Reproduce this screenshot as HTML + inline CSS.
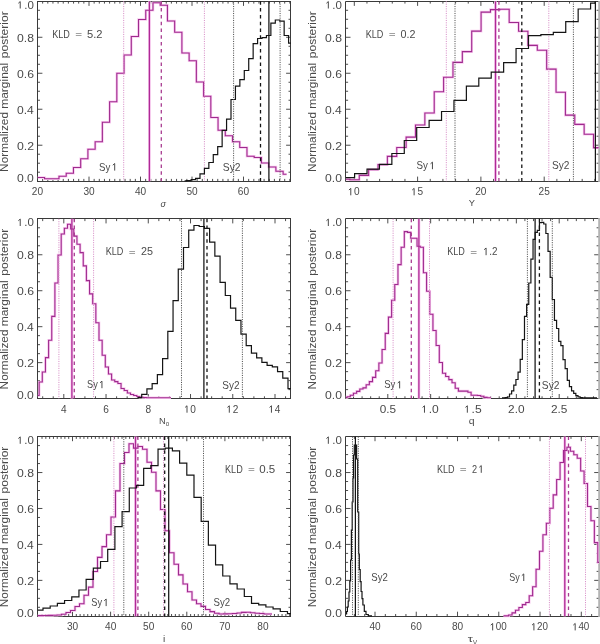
<!DOCTYPE html>
<html><head><meta charset="utf-8"><style>
html,body{margin:0;padding:0;background:#fff;width:600px;height:644px;overflow:hidden}
svg{display:block}
text{font-family:"Liberation Sans",sans-serif;fill:#4a4a4a}
.tl{font-size:10.1px}
</style></head><body>
<svg width="600" height="644" viewBox="0 0 600 644" style="will-change:transform">
<path d="M42.65 181.2v-2.3M42.65 1.3v2.3M47.8 181.2v-2.3M47.8 1.3v2.3M52.95 181.2v-2.3M52.95 1.3v2.3M58.1 181.2v-2.3M58.1 1.3v2.3M63.25 181.2v-2.3M63.25 1.3v2.3M68.4 181.2v-2.3M68.4 1.3v2.3M73.55 181.2v-2.3M73.55 1.3v2.3M78.7 181.2v-2.3M78.7 1.3v2.3M83.85 181.2v-2.3M83.85 1.3v2.3M89 181.2v-4.6M89 1.3v4.6M94.15 181.2v-2.3M94.15 1.3v2.3M99.3 181.2v-2.3M99.3 1.3v2.3M104.45 181.2v-2.3M104.45 1.3v2.3M109.6 181.2v-2.3M109.6 1.3v2.3M114.75 181.2v-2.3M114.75 1.3v2.3M119.9 181.2v-2.3M119.9 1.3v2.3M125.05 181.2v-2.3M125.05 1.3v2.3M130.2 181.2v-2.3M130.2 1.3v2.3M135.35 181.2v-2.3M135.35 1.3v2.3M140.5 181.2v-4.6M140.5 1.3v4.6M145.65 181.2v-2.3M145.65 1.3v2.3M150.8 181.2v-2.3M150.8 1.3v2.3M155.95 181.2v-2.3M155.95 1.3v2.3M161.1 181.2v-2.3M161.1 1.3v2.3M166.25 181.2v-2.3M166.25 1.3v2.3M171.4 181.2v-2.3M171.4 1.3v2.3M176.55 181.2v-2.3M176.55 1.3v2.3M181.7 181.2v-2.3M181.7 1.3v2.3M186.85 181.2v-2.3M186.85 1.3v2.3M192 181.2v-4.6M192 1.3v4.6M197.15 181.2v-2.3M197.15 1.3v2.3M202.3 181.2v-2.3M202.3 1.3v2.3M207.45 181.2v-2.3M207.45 1.3v2.3M212.6 181.2v-2.3M212.6 1.3v2.3M217.75 181.2v-2.3M217.75 1.3v2.3M222.9 181.2v-2.3M222.9 1.3v2.3M228.05 181.2v-2.3M228.05 1.3v2.3M233.2 181.2v-2.3M233.2 1.3v2.3M238.35 181.2v-2.3M238.35 1.3v2.3M243.5 181.2v-4.6M243.5 1.3v4.6M248.65 181.2v-2.3M248.65 1.3v2.3M253.8 181.2v-2.3M253.8 1.3v2.3M258.95 181.2v-2.3M258.95 1.3v2.3M264.1 181.2v-2.3M264.1 1.3v2.3M269.25 181.2v-2.3M269.25 1.3v2.3M274.4 181.2v-2.3M274.4 1.3v2.3M279.55 181.2v-2.3M279.55 1.3v2.3M284.7 181.2v-2.3M284.7 1.3v2.3M289.85 181.2v-2.3M289.85 1.3v2.3M37.6 172.2h2.4M290.9 172.2h-2.4M37.6 163.21h2.4M290.9 163.21h-2.4M37.6 154.21h2.4M290.9 154.21h-2.4M37.6 145.22h4.8M290.9 145.22h-4.8M37.6 136.22h2.4M290.9 136.22h-2.4M37.6 127.23h2.4M290.9 127.23h-2.4M37.6 118.23h2.4M290.9 118.23h-2.4M37.6 109.24h4.8M290.9 109.24h-4.8M37.6 100.24h2.4M290.9 100.24h-2.4M37.6 91.25h2.4M290.9 91.25h-2.4M37.6 82.25h2.4M290.9 82.25h-2.4M37.6 73.26h4.8M290.9 73.26h-4.8M37.6 64.27h2.4M290.9 64.27h-2.4M37.6 55.27h2.4M290.9 55.27h-2.4M37.6 46.28h2.4M290.9 46.28h-2.4M37.6 37.28h4.8M290.9 37.28h-4.8M37.6 28.28h2.4M290.9 28.28h-2.4M37.6 19.29h2.4M290.9 19.29h-2.4M37.6 10.29h2.4M290.9 10.29h-2.4" stroke="#3a3a3a" stroke-width="0.9" fill="none"/>
<rect x="37.5" y="1.5" width="253" height="180" fill="none" stroke="#3a3a3a" stroke-width="1"/>
<text x="31.83" y="195.3" font-size="10.1" >2</text><text x="37.44" y="195.3" font-size="10.1" >0</text>
<text x="83.39" y="195.3" font-size="10.1" >3</text><text x="89" y="195.3" font-size="10.1" >0</text>
<text x="134.96" y="195.3" font-size="10.1" >4</text><text x="140.58" y="195.3" font-size="10.1" >0</text>
<text x="186.38" y="195.3" font-size="10.1" >5</text><text x="192" y="195.3" font-size="10.1" >0</text>
<text x="237.82" y="195.3" font-size="10.1" >6</text><text x="243.44" y="195.3" font-size="10.1" >0</text>
<text x="0" y="181.6" font-size="10.1" transform="matrix(1.2074 0 0 1 16.92 0)" >0</text><text x="0" y="181.6" font-size="10.1" transform="matrix(1.2074 0 0 1 23.71 0)" >.</text><text x="0" y="181.6" font-size="10.1" transform="matrix(1.2074 0 0 1 27.09 0)" >0</text>
<text x="0" y="149.72" font-size="10.1" transform="matrix(1.2179 0 0 1 16.92 0)" >0</text><text x="0" y="149.72" font-size="10.1" transform="matrix(1.2179 0 0 1 23.76 0)" >.</text><text x="0" y="149.72" font-size="10.1" transform="matrix(1.2179 0 0 1 27.18 0)" >2</text>
<text x="0" y="113.74" font-size="10.1" transform="matrix(1.1985 0 0 1 16.93 0)" >0</text><text x="0" y="113.74" font-size="10.1" transform="matrix(1.1985 0 0 1 23.66 0)" >.</text><text x="0" y="113.74" font-size="10.1" transform="matrix(1.1985 0 0 1 27.02 0)" >4</text>
<text x="0" y="77.76" font-size="10.1" transform="matrix(1.2119 0 0 1 16.92 0)" >0</text><text x="0" y="77.76" font-size="10.1" transform="matrix(1.2119 0 0 1 23.73 0)" >.</text><text x="0" y="77.76" font-size="10.1" transform="matrix(1.2119 0 0 1 27.13 0)" >6</text>
<text x="0" y="41.78" font-size="10.1" transform="matrix(1.2115 0 0 1 16.92 0)" >0</text><text x="0" y="41.78" font-size="10.1" transform="matrix(1.2115 0 0 1 23.73 0)" >.</text><text x="0" y="41.78" font-size="10.1" transform="matrix(1.2115 0 0 1 27.13 0)" >8</text>
<path d="M20.23 8.5V1.55L18.35 3.22" stroke="#4a4a4a" stroke-width="1" fill="none"/><text x="0" y="8.5" font-size="10.1" transform="matrix(1.1416 0 0 1 24.23 0)" >.</text><text x="0" y="8.5" font-size="10.1" transform="matrix(1.1416 0 0 1 27.44 0)" >0</text>
<path d="M354.3 181.2v-4.6M354.3 1.3v4.6M366.96 181.2v-2.3M366.96 1.3v2.3M379.62 181.2v-2.3M379.62 1.3v2.3M392.28 181.2v-2.3M392.28 1.3v2.3M404.94 181.2v-2.3M404.94 1.3v2.3M417.6 181.2v-4.6M417.6 1.3v4.6M430.26 181.2v-2.3M430.26 1.3v2.3M442.92 181.2v-2.3M442.92 1.3v2.3M455.58 181.2v-2.3M455.58 1.3v2.3M468.24 181.2v-2.3M468.24 1.3v2.3M480.9 181.2v-4.6M480.9 1.3v4.6M493.56 181.2v-2.3M493.56 1.3v2.3M506.22 181.2v-2.3M506.22 1.3v2.3M518.88 181.2v-2.3M518.88 1.3v2.3M531.54 181.2v-2.3M531.54 1.3v2.3M544.2 181.2v-4.6M544.2 1.3v4.6M556.86 181.2v-2.3M556.86 1.3v2.3M569.52 181.2v-2.3M569.52 1.3v2.3M582.18 181.2v-2.3M582.18 1.3v2.3M594.84 181.2v-2.3M594.84 1.3v2.3M345.7 172.2h2.4M599 172.2h-2.4M345.7 163.21h2.4M599 163.21h-2.4M345.7 154.21h2.4M599 154.21h-2.4M345.7 145.22h4.8M599 145.22h-4.8M345.7 136.22h2.4M599 136.22h-2.4M345.7 127.23h2.4M599 127.23h-2.4M345.7 118.23h2.4M599 118.23h-2.4M345.7 109.24h4.8M599 109.24h-4.8M345.7 100.24h2.4M599 100.24h-2.4M345.7 91.25h2.4M599 91.25h-2.4M345.7 82.25h2.4M599 82.25h-2.4M345.7 73.26h4.8M599 73.26h-4.8M345.7 64.27h2.4M599 64.27h-2.4M345.7 55.27h2.4M599 55.27h-2.4M345.7 46.28h2.4M599 46.28h-2.4M345.7 37.28h4.8M599 37.28h-4.8M345.7 28.28h2.4M599 28.28h-2.4M345.7 19.29h2.4M599 19.29h-2.4M345.7 10.29h2.4M599 10.29h-2.4" stroke="#3a3a3a" stroke-width="0.9" fill="none"/>
<path d="M599.1 1.5H345.5V181.5H599.1" fill="none" stroke="#3a3a3a" stroke-width="1"/>
<path d="M599.1 1V182" stroke="#b4b4b4" stroke-width="1.8"/>
<path d="M350.79 195.3V188.35L348.92 190.02" stroke="#4a4a4a" stroke-width="1" fill="none"/><text x="354.11" y="195.3" font-size="10.1" >0</text>
<path d="M414.11 195.3V188.35L412.23 190.02" stroke="#4a4a4a" stroke-width="1" fill="none"/><text x="417.43" y="195.3" font-size="10.1" >5</text>
<text x="475.23" y="195.3" font-size="10.1" >2</text><text x="480.84" y="195.3" font-size="10.1" >0</text>
<text x="538.54" y="195.3" font-size="10.1" >2</text><text x="544.16" y="195.3" font-size="10.1" >5</text>
<text x="0" y="181.6" font-size="10.1" transform="matrix(1.2074 0 0 1 325.02 0)" >0</text><text x="0" y="181.6" font-size="10.1" transform="matrix(1.2074 0 0 1 331.81 0)" >.</text><text x="0" y="181.6" font-size="10.1" transform="matrix(1.2074 0 0 1 335.19 0)" >0</text>
<text x="0" y="149.72" font-size="10.1" transform="matrix(1.2179 0 0 1 325.02 0)" >0</text><text x="0" y="149.72" font-size="10.1" transform="matrix(1.2179 0 0 1 331.86 0)" >.</text><text x="0" y="149.72" font-size="10.1" transform="matrix(1.2179 0 0 1 335.28 0)" >2</text>
<text x="0" y="113.74" font-size="10.1" transform="matrix(1.1985 0 0 1 325.03 0)" >0</text><text x="0" y="113.74" font-size="10.1" transform="matrix(1.1985 0 0 1 331.76 0)" >.</text><text x="0" y="113.74" font-size="10.1" transform="matrix(1.1985 0 0 1 335.12 0)" >4</text>
<text x="0" y="77.76" font-size="10.1" transform="matrix(1.2119 0 0 1 325.02 0)" >0</text><text x="0" y="77.76" font-size="10.1" transform="matrix(1.2119 0 0 1 331.83 0)" >.</text><text x="0" y="77.76" font-size="10.1" transform="matrix(1.2119 0 0 1 335.23 0)" >6</text>
<text x="0" y="41.78" font-size="10.1" transform="matrix(1.2115 0 0 1 325.02 0)" >0</text><text x="0" y="41.78" font-size="10.1" transform="matrix(1.2115 0 0 1 331.83 0)" >.</text><text x="0" y="41.78" font-size="10.1" transform="matrix(1.2115 0 0 1 335.23 0)" >8</text>
<path d="M328.33 8.5V1.55L326.45 3.22" stroke="#4a4a4a" stroke-width="1" fill="none"/><text x="0" y="8.5" font-size="10.1" transform="matrix(1.1416 0 0 1 332.33 0)" >.</text><text x="0" y="8.5" font-size="10.1" transform="matrix(1.1416 0 0 1 335.54 0)" >0</text>
<path d="M42.68 398.6v-2.3M42.68 218.8v2.3M53.24 398.6v-2.3M53.24 218.8v2.3M63.8 398.6v-4.6M63.8 218.8v4.6M74.36 398.6v-2.3M74.36 218.8v2.3M84.92 398.6v-2.3M84.92 218.8v2.3M95.48 398.6v-2.3M95.48 218.8v2.3M106.04 398.6v-4.6M106.04 218.8v4.6M116.6 398.6v-2.3M116.6 218.8v2.3M127.16 398.6v-2.3M127.16 218.8v2.3M137.72 398.6v-2.3M137.72 218.8v2.3M148.28 398.6v-4.6M148.28 218.8v4.6M158.84 398.6v-2.3M158.84 218.8v2.3M169.4 398.6v-2.3M169.4 218.8v2.3M179.96 398.6v-2.3M179.96 218.8v2.3M190.52 398.6v-4.6M190.52 218.8v4.6M201.08 398.6v-2.3M201.08 218.8v2.3M211.64 398.6v-2.3M211.64 218.8v2.3M222.2 398.6v-2.3M222.2 218.8v2.3M232.76 398.6v-4.6M232.76 218.8v4.6M243.32 398.6v-2.3M243.32 218.8v2.3M253.88 398.6v-2.3M253.88 218.8v2.3M264.44 398.6v-2.3M264.44 218.8v2.3M275 398.6v-4.6M275 218.8v4.6M285.56 398.6v-2.3M285.56 218.8v2.3M37.6 389.61h2.4M290.9 389.61h-2.4M37.6 380.62h2.4M290.9 380.62h-2.4M37.6 371.63h2.4M290.9 371.63h-2.4M37.6 362.64h4.8M290.9 362.64h-4.8M37.6 353.65h2.4M290.9 353.65h-2.4M37.6 344.66h2.4M290.9 344.66h-2.4M37.6 335.67h2.4M290.9 335.67h-2.4M37.6 326.68h4.8M290.9 326.68h-4.8M37.6 317.69h2.4M290.9 317.69h-2.4M37.6 308.7h2.4M290.9 308.7h-2.4M37.6 299.71h2.4M290.9 299.71h-2.4M37.6 290.72h4.8M290.9 290.72h-4.8M37.6 281.73h2.4M290.9 281.73h-2.4M37.6 272.74h2.4M290.9 272.74h-2.4M37.6 263.75h2.4M290.9 263.75h-2.4M37.6 254.76h4.8M290.9 254.76h-4.8M37.6 245.77h2.4M290.9 245.77h-2.4M37.6 236.78h2.4M290.9 236.78h-2.4M37.6 227.79h2.4M290.9 227.79h-2.4" stroke="#3a3a3a" stroke-width="0.9" fill="none"/>
<rect x="37.5" y="218.5" width="253" height="180" fill="none" stroke="#3a3a3a" stroke-width="1"/>
<text x="61.02" y="412.7" font-size="10.1" >4</text>
<text x="103.2" y="412.7" font-size="10.1" >6</text>
<text x="145.47" y="412.7" font-size="10.1" >8</text>
<path d="M187.01 412.7V405.75L185.14 407.42" stroke="#4a4a4a" stroke-width="1" fill="none"/><text x="190.33" y="412.7" font-size="10.1" >0</text>
<path d="M229.31 412.7V405.75L227.43 407.42" stroke="#4a4a4a" stroke-width="1" fill="none"/><text x="232.63" y="412.7" font-size="10.1" >2</text>
<path d="M271.44 412.7V405.75L269.57 407.42" stroke="#4a4a4a" stroke-width="1" fill="none"/><text x="274.76" y="412.7" font-size="10.1" >4</text>
<text x="0" y="399" font-size="10.1" transform="matrix(1.2074 0 0 1 16.92 0)" >0</text><text x="0" y="399" font-size="10.1" transform="matrix(1.2074 0 0 1 23.71 0)" >.</text><text x="0" y="399" font-size="10.1" transform="matrix(1.2074 0 0 1 27.09 0)" >0</text>
<text x="0" y="367.14" font-size="10.1" transform="matrix(1.2179 0 0 1 16.92 0)" >0</text><text x="0" y="367.14" font-size="10.1" transform="matrix(1.2179 0 0 1 23.76 0)" >.</text><text x="0" y="367.14" font-size="10.1" transform="matrix(1.2179 0 0 1 27.18 0)" >2</text>
<text x="0" y="331.18" font-size="10.1" transform="matrix(1.1985 0 0 1 16.93 0)" >0</text><text x="0" y="331.18" font-size="10.1" transform="matrix(1.1985 0 0 1 23.66 0)" >.</text><text x="0" y="331.18" font-size="10.1" transform="matrix(1.1985 0 0 1 27.02 0)" >4</text>
<text x="0" y="295.22" font-size="10.1" transform="matrix(1.2119 0 0 1 16.92 0)" >0</text><text x="0" y="295.22" font-size="10.1" transform="matrix(1.2119 0 0 1 23.73 0)" >.</text><text x="0" y="295.22" font-size="10.1" transform="matrix(1.2119 0 0 1 27.13 0)" >6</text>
<text x="0" y="259.26" font-size="10.1" transform="matrix(1.2115 0 0 1 16.92 0)" >0</text><text x="0" y="259.26" font-size="10.1" transform="matrix(1.2115 0 0 1 23.73 0)" >.</text><text x="0" y="259.26" font-size="10.1" transform="matrix(1.2115 0 0 1 27.13 0)" >8</text>
<path d="M20.23 226V219.05L18.35 220.72" stroke="#4a4a4a" stroke-width="1" fill="none"/><text x="0" y="226" font-size="10.1" transform="matrix(1.1416 0 0 1 24.23 0)" >.</text><text x="0" y="226" font-size="10.1" transform="matrix(1.1416 0 0 1 27.44 0)" >0</text>
<path d="M353.52 398.6v-2.3M353.52 218.8v2.3M362.09 398.6v-2.3M362.09 218.8v2.3M370.66 398.6v-2.3M370.66 218.8v2.3M379.23 398.6v-2.3M379.23 218.8v2.3M387.8 398.6v-4.6M387.8 218.8v4.6M396.37 398.6v-2.3M396.37 218.8v2.3M404.94 398.6v-2.3M404.94 218.8v2.3M413.51 398.6v-2.3M413.51 218.8v2.3M422.08 398.6v-2.3M422.08 218.8v2.3M430.65 398.6v-4.6M430.65 218.8v4.6M439.22 398.6v-2.3M439.22 218.8v2.3M447.79 398.6v-2.3M447.79 218.8v2.3M456.36 398.6v-2.3M456.36 218.8v2.3M464.93 398.6v-2.3M464.93 218.8v2.3M473.5 398.6v-4.6M473.5 218.8v4.6M482.07 398.6v-2.3M482.07 218.8v2.3M490.64 398.6v-2.3M490.64 218.8v2.3M499.21 398.6v-2.3M499.21 218.8v2.3M507.78 398.6v-2.3M507.78 218.8v2.3M516.35 398.6v-4.6M516.35 218.8v4.6M524.92 398.6v-2.3M524.92 218.8v2.3M533.49 398.6v-2.3M533.49 218.8v2.3M542.06 398.6v-2.3M542.06 218.8v2.3M550.63 398.6v-2.3M550.63 218.8v2.3M559.2 398.6v-4.6M559.2 218.8v4.6M567.77 398.6v-2.3M567.77 218.8v2.3M576.34 398.6v-2.3M576.34 218.8v2.3M584.91 398.6v-2.3M584.91 218.8v2.3M593.48 398.6v-2.3M593.48 218.8v2.3M345.7 389.61h2.4M599 389.61h-2.4M345.7 380.62h2.4M599 380.62h-2.4M345.7 371.63h2.4M599 371.63h-2.4M345.7 362.64h4.8M599 362.64h-4.8M345.7 353.65h2.4M599 353.65h-2.4M345.7 344.66h2.4M599 344.66h-2.4M345.7 335.67h2.4M599 335.67h-2.4M345.7 326.68h4.8M599 326.68h-4.8M345.7 317.69h2.4M599 317.69h-2.4M345.7 308.7h2.4M599 308.7h-2.4M345.7 299.71h2.4M599 299.71h-2.4M345.7 290.72h4.8M599 290.72h-4.8M345.7 281.73h2.4M599 281.73h-2.4M345.7 272.74h2.4M599 272.74h-2.4M345.7 263.75h2.4M599 263.75h-2.4M345.7 254.76h4.8M599 254.76h-4.8M345.7 245.77h2.4M599 245.77h-2.4M345.7 236.78h2.4M599 236.78h-2.4M345.7 227.79h2.4M599 227.79h-2.4" stroke="#3a3a3a" stroke-width="0.9" fill="none"/>
<path d="M599.1 218.5H345.5V398.5H599.1" fill="none" stroke="#3a3a3a" stroke-width="1"/>
<path d="M599.1 218V399" stroke="#b4b4b4" stroke-width="1.8"/>
<text x="0" y="412.7" font-size="10.1" transform="matrix(1.1647 0 0 1 379.64 0)" >0</text><text x="0" y="412.7" font-size="10.1" transform="matrix(1.1647 0 0 1 386.18 0)" >.</text><text x="0" y="412.7" font-size="10.1" transform="matrix(1.1647 0 0 1 389.45 0)" >5</text>
<path d="M424.48 412.7V405.75L422.6 407.42" stroke="#4a4a4a" stroke-width="1" fill="none"/><text x="0" y="412.7" font-size="10.1" transform="matrix(1.1960 0 0 1 428.75 0)" >.</text><text x="0" y="412.7" font-size="10.1" transform="matrix(1.1960 0 0 1 432.1 0)" >0</text>
<path d="M467.33 412.7V405.75L465.45 407.42" stroke="#4a4a4a" stroke-width="1" fill="none"/><text x="0" y="412.7" font-size="10.1" transform="matrix(1.1987 0 0 1 471.61 0)" >.</text><text x="0" y="412.7" font-size="10.1" transform="matrix(1.1987 0 0 1 474.97 0)" >5</text>
<text x="0" y="412.7" font-size="10.1" transform="matrix(1.1722 0 0 1 508.05 0)" >2</text><text x="0" y="412.7" font-size="10.1" transform="matrix(1.1722 0 0 1 514.64 0)" >.</text><text x="0" y="412.7" font-size="10.1" transform="matrix(1.1722 0 0 1 517.93 0)" >0</text>
<text x="0" y="412.7" font-size="10.1" transform="matrix(1.1748 0 0 1 550.9 0)" >2</text><text x="0" y="412.7" font-size="10.1" transform="matrix(1.1748 0 0 1 557.5 0)" >.</text><text x="0" y="412.7" font-size="10.1" transform="matrix(1.1748 0 0 1 560.8 0)" >5</text>
<text x="0" y="399" font-size="10.1" transform="matrix(1.2074 0 0 1 325.02 0)" >0</text><text x="0" y="399" font-size="10.1" transform="matrix(1.2074 0 0 1 331.81 0)" >.</text><text x="0" y="399" font-size="10.1" transform="matrix(1.2074 0 0 1 335.19 0)" >0</text>
<text x="0" y="367.14" font-size="10.1" transform="matrix(1.2179 0 0 1 325.02 0)" >0</text><text x="0" y="367.14" font-size="10.1" transform="matrix(1.2179 0 0 1 331.86 0)" >.</text><text x="0" y="367.14" font-size="10.1" transform="matrix(1.2179 0 0 1 335.28 0)" >2</text>
<text x="0" y="331.18" font-size="10.1" transform="matrix(1.1985 0 0 1 325.03 0)" >0</text><text x="0" y="331.18" font-size="10.1" transform="matrix(1.1985 0 0 1 331.76 0)" >.</text><text x="0" y="331.18" font-size="10.1" transform="matrix(1.1985 0 0 1 335.12 0)" >4</text>
<text x="0" y="295.22" font-size="10.1" transform="matrix(1.2119 0 0 1 325.02 0)" >0</text><text x="0" y="295.22" font-size="10.1" transform="matrix(1.2119 0 0 1 331.83 0)" >.</text><text x="0" y="295.22" font-size="10.1" transform="matrix(1.2119 0 0 1 335.23 0)" >6</text>
<text x="0" y="259.26" font-size="10.1" transform="matrix(1.2115 0 0 1 325.02 0)" >0</text><text x="0" y="259.26" font-size="10.1" transform="matrix(1.2115 0 0 1 331.83 0)" >.</text><text x="0" y="259.26" font-size="10.1" transform="matrix(1.2115 0 0 1 335.23 0)" >8</text>
<path d="M328.33 226V219.05L326.45 220.72" stroke="#4a4a4a" stroke-width="1" fill="none"/><text x="0" y="226" font-size="10.1" transform="matrix(1.1416 0 0 1 332.33 0)" >.</text><text x="0" y="226" font-size="10.1" transform="matrix(1.1416 0 0 1 335.54 0)" >0</text>
<path d="M42.02 616.3v-2.3M42.02 436.6v2.3M45.83 616.3v-2.3M45.83 436.6v2.3M49.64 616.3v-2.3M49.64 436.6v2.3M53.45 616.3v-2.3M53.45 436.6v2.3M57.26 616.3v-2.3M57.26 436.6v2.3M61.07 616.3v-2.3M61.07 436.6v2.3M64.88 616.3v-2.3M64.88 436.6v2.3M68.69 616.3v-2.3M68.69 436.6v2.3M72.5 616.3v-4.6M72.5 436.6v4.6M76.31 616.3v-2.3M76.31 436.6v2.3M80.12 616.3v-2.3M80.12 436.6v2.3M83.93 616.3v-2.3M83.93 436.6v2.3M87.74 616.3v-2.3M87.74 436.6v2.3M91.55 616.3v-2.3M91.55 436.6v2.3M95.36 616.3v-2.3M95.36 436.6v2.3M99.17 616.3v-2.3M99.17 436.6v2.3M102.98 616.3v-2.3M102.98 436.6v2.3M106.79 616.3v-2.3M106.79 436.6v2.3M110.6 616.3v-4.6M110.6 436.6v4.6M114.41 616.3v-2.3M114.41 436.6v2.3M118.22 616.3v-2.3M118.22 436.6v2.3M122.03 616.3v-2.3M122.03 436.6v2.3M125.84 616.3v-2.3M125.84 436.6v2.3M129.65 616.3v-2.3M129.65 436.6v2.3M133.46 616.3v-2.3M133.46 436.6v2.3M137.27 616.3v-2.3M137.27 436.6v2.3M141.08 616.3v-2.3M141.08 436.6v2.3M144.89 616.3v-2.3M144.89 436.6v2.3M148.7 616.3v-4.6M148.7 436.6v4.6M152.51 616.3v-2.3M152.51 436.6v2.3M156.32 616.3v-2.3M156.32 436.6v2.3M160.13 616.3v-2.3M160.13 436.6v2.3M163.94 616.3v-2.3M163.94 436.6v2.3M167.75 616.3v-2.3M167.75 436.6v2.3M171.56 616.3v-2.3M171.56 436.6v2.3M175.37 616.3v-2.3M175.37 436.6v2.3M179.18 616.3v-2.3M179.18 436.6v2.3M182.99 616.3v-2.3M182.99 436.6v2.3M186.8 616.3v-4.6M186.8 436.6v4.6M190.61 616.3v-2.3M190.61 436.6v2.3M194.42 616.3v-2.3M194.42 436.6v2.3M198.23 616.3v-2.3M198.23 436.6v2.3M202.04 616.3v-2.3M202.04 436.6v2.3M205.85 616.3v-2.3M205.85 436.6v2.3M209.66 616.3v-2.3M209.66 436.6v2.3M213.47 616.3v-2.3M213.47 436.6v2.3M217.28 616.3v-2.3M217.28 436.6v2.3M221.09 616.3v-2.3M221.09 436.6v2.3M224.9 616.3v-4.6M224.9 436.6v4.6M228.71 616.3v-2.3M228.71 436.6v2.3M232.52 616.3v-2.3M232.52 436.6v2.3M236.33 616.3v-2.3M236.33 436.6v2.3M240.14 616.3v-2.3M240.14 436.6v2.3M243.95 616.3v-2.3M243.95 436.6v2.3M247.76 616.3v-2.3M247.76 436.6v2.3M251.57 616.3v-2.3M251.57 436.6v2.3M255.38 616.3v-2.3M255.38 436.6v2.3M259.19 616.3v-2.3M259.19 436.6v2.3M263 616.3v-4.6M263 436.6v4.6M266.81 616.3v-2.3M266.81 436.6v2.3M270.62 616.3v-2.3M270.62 436.6v2.3M274.43 616.3v-2.3M274.43 436.6v2.3M278.24 616.3v-2.3M278.24 436.6v2.3M282.05 616.3v-2.3M282.05 436.6v2.3M285.86 616.3v-2.3M285.86 436.6v2.3M289.67 616.3v-2.3M289.67 436.6v2.3M37.6 607.31h2.4M290.9 607.31h-2.4M37.6 598.33h2.4M290.9 598.33h-2.4M37.6 589.34h2.4M290.9 589.34h-2.4M37.6 580.36h4.8M290.9 580.36h-4.8M37.6 571.38h2.4M290.9 571.38h-2.4M37.6 562.39h2.4M290.9 562.39h-2.4M37.6 553.4h2.4M290.9 553.4h-2.4M37.6 544.42h4.8M290.9 544.42h-4.8M37.6 535.43h2.4M290.9 535.43h-2.4M37.6 526.45h2.4M290.9 526.45h-2.4M37.6 517.47h2.4M290.9 517.47h-2.4M37.6 508.48h4.8M290.9 508.48h-4.8M37.6 499.5h2.4M290.9 499.5h-2.4M37.6 490.51h2.4M290.9 490.51h-2.4M37.6 481.52h2.4M290.9 481.52h-2.4M37.6 472.54h4.8M290.9 472.54h-4.8M37.6 463.56h2.4M290.9 463.56h-2.4M37.6 454.57h2.4M290.9 454.57h-2.4M37.6 445.59h2.4M290.9 445.59h-2.4" stroke="#3a3a3a" stroke-width="0.9" fill="none"/>
<rect x="37.5" y="436.5" width="253" height="180" fill="none" stroke="#3a3a3a" stroke-width="1"/>
<text x="66.89" y="630.4" font-size="10.1" >3</text><text x="72.5" y="630.4" font-size="10.1" >0</text>
<text x="105.06" y="630.4" font-size="10.1" >4</text><text x="110.68" y="630.4" font-size="10.1" >0</text>
<text x="143.08" y="630.4" font-size="10.1" >5</text><text x="148.7" y="630.4" font-size="10.1" >0</text>
<text x="181.12" y="630.4" font-size="10.1" >6</text><text x="186.74" y="630.4" font-size="10.1" >0</text>
<text x="219.22" y="630.4" font-size="10.1" >7</text><text x="224.84" y="630.4" font-size="10.1" >0</text>
<text x="257.36" y="630.4" font-size="10.1" >8</text><text x="262.98" y="630.4" font-size="10.1" >0</text>
<text x="0" y="616.7" font-size="10.1" transform="matrix(1.2074 0 0 1 16.92 0)" >0</text><text x="0" y="616.7" font-size="10.1" transform="matrix(1.2074 0 0 1 23.71 0)" >.</text><text x="0" y="616.7" font-size="10.1" transform="matrix(1.2074 0 0 1 27.09 0)" >0</text>
<text x="0" y="584.86" font-size="10.1" transform="matrix(1.2179 0 0 1 16.92 0)" >0</text><text x="0" y="584.86" font-size="10.1" transform="matrix(1.2179 0 0 1 23.76 0)" >.</text><text x="0" y="584.86" font-size="10.1" transform="matrix(1.2179 0 0 1 27.18 0)" >2</text>
<text x="0" y="548.92" font-size="10.1" transform="matrix(1.1985 0 0 1 16.93 0)" >0</text><text x="0" y="548.92" font-size="10.1" transform="matrix(1.1985 0 0 1 23.66 0)" >.</text><text x="0" y="548.92" font-size="10.1" transform="matrix(1.1985 0 0 1 27.02 0)" >4</text>
<text x="0" y="512.98" font-size="10.1" transform="matrix(1.2119 0 0 1 16.92 0)" >0</text><text x="0" y="512.98" font-size="10.1" transform="matrix(1.2119 0 0 1 23.73 0)" >.</text><text x="0" y="512.98" font-size="10.1" transform="matrix(1.2119 0 0 1 27.13 0)" >6</text>
<text x="0" y="477.04" font-size="10.1" transform="matrix(1.2115 0 0 1 16.92 0)" >0</text><text x="0" y="477.04" font-size="10.1" transform="matrix(1.2115 0 0 1 23.73 0)" >.</text><text x="0" y="477.04" font-size="10.1" transform="matrix(1.2115 0 0 1 27.13 0)" >8</text>
<path d="M20.23 443.8V436.85L18.35 438.52" stroke="#4a4a4a" stroke-width="1" fill="none"/><text x="0" y="443.8" font-size="10.1" transform="matrix(1.1416 0 0 1 24.23 0)" >.</text><text x="0" y="443.8" font-size="10.1" transform="matrix(1.1416 0 0 1 27.44 0)" >0</text>
<path d="M354.37 616.3v-2.3M354.37 436.6v2.3M364.69 616.3v-2.3M364.69 436.6v2.3M375 616.3v-4.6M375 436.6v4.6M385.32 616.3v-2.3M385.32 436.6v2.3M395.63 616.3v-2.3M395.63 436.6v2.3M405.95 616.3v-2.3M405.95 436.6v2.3M416.26 616.3v-4.6M416.26 436.6v4.6M426.58 616.3v-2.3M426.58 436.6v2.3M436.89 616.3v-2.3M436.89 436.6v2.3M447.21 616.3v-2.3M447.21 436.6v2.3M457.52 616.3v-4.6M457.52 436.6v4.6M467.84 616.3v-2.3M467.84 436.6v2.3M478.15 616.3v-2.3M478.15 436.6v2.3M488.47 616.3v-2.3M488.47 436.6v2.3M498.78 616.3v-4.6M498.78 436.6v4.6M509.1 616.3v-2.3M509.1 436.6v2.3M519.41 616.3v-2.3M519.41 436.6v2.3M529.73 616.3v-2.3M529.73 436.6v2.3M540.04 616.3v-4.6M540.04 436.6v4.6M550.36 616.3v-2.3M550.36 436.6v2.3M560.67 616.3v-2.3M560.67 436.6v2.3M570.99 616.3v-2.3M570.99 436.6v2.3M581.3 616.3v-4.6M581.3 436.6v4.6M591.62 616.3v-2.3M591.62 436.6v2.3M345.7 607.31h2.4M599 607.31h-2.4M345.7 598.33h2.4M599 598.33h-2.4M345.7 589.34h2.4M599 589.34h-2.4M345.7 580.36h4.8M599 580.36h-4.8M345.7 571.38h2.4M599 571.38h-2.4M345.7 562.39h2.4M599 562.39h-2.4M345.7 553.4h2.4M599 553.4h-2.4M345.7 544.42h4.8M599 544.42h-4.8M345.7 535.43h2.4M599 535.43h-2.4M345.7 526.45h2.4M599 526.45h-2.4M345.7 517.47h2.4M599 517.47h-2.4M345.7 508.48h4.8M599 508.48h-4.8M345.7 499.5h2.4M599 499.5h-2.4M345.7 490.51h2.4M599 490.51h-2.4M345.7 481.52h2.4M599 481.52h-2.4M345.7 472.54h4.8M599 472.54h-4.8M345.7 463.56h2.4M599 463.56h-2.4M345.7 454.57h2.4M599 454.57h-2.4M345.7 445.59h2.4M599 445.59h-2.4" stroke="#3a3a3a" stroke-width="0.9" fill="none"/>
<path d="M599.1 436.5H345.5V616.5H599.1" fill="none" stroke="#3a3a3a" stroke-width="1"/>
<path d="M599.1 436V617" stroke="#b4b4b4" stroke-width="1.8"/>
<text x="369.46" y="630.4" font-size="10.1" >4</text><text x="375.08" y="630.4" font-size="10.1" >0</text>
<text x="410.58" y="630.4" font-size="10.1" >6</text><text x="416.2" y="630.4" font-size="10.1" >0</text>
<text x="451.88" y="630.4" font-size="10.1" >8</text><text x="457.5" y="630.4" font-size="10.1" >0</text>
<path d="M492.66 630.4V623.45L490.78 625.12" stroke="#4a4a4a" stroke-width="1" fill="none"/><text x="0" y="630.4" font-size="10.1" transform="matrix(0.9753 0 0 1 495.86 0)" >0</text><text x="0" y="630.4" font-size="10.1" transform="matrix(0.9753 0 0 1 501.34 0)" >0</text>
<path d="M533.92 630.4V623.45L532.04 625.12" stroke="#4a4a4a" stroke-width="1" fill="none"/><text x="0" y="630.4" font-size="10.1" transform="matrix(0.9753 0 0 1 537.12 0)" >2</text><text x="0" y="630.4" font-size="10.1" transform="matrix(0.9753 0 0 1 542.6 0)" >0</text>
<path d="M575.18 630.4V623.45L573.3 625.12" stroke="#4a4a4a" stroke-width="1" fill="none"/><text x="0" y="630.4" font-size="10.1" transform="matrix(0.9753 0 0 1 578.38 0)" >4</text><text x="0" y="630.4" font-size="10.1" transform="matrix(0.9753 0 0 1 583.86 0)" >0</text>
<text x="0" y="616.7" font-size="10.1" transform="matrix(1.2074 0 0 1 325.02 0)" >0</text><text x="0" y="616.7" font-size="10.1" transform="matrix(1.2074 0 0 1 331.81 0)" >.</text><text x="0" y="616.7" font-size="10.1" transform="matrix(1.2074 0 0 1 335.19 0)" >0</text>
<text x="0" y="584.86" font-size="10.1" transform="matrix(1.2179 0 0 1 325.02 0)" >0</text><text x="0" y="584.86" font-size="10.1" transform="matrix(1.2179 0 0 1 331.86 0)" >.</text><text x="0" y="584.86" font-size="10.1" transform="matrix(1.2179 0 0 1 335.28 0)" >2</text>
<text x="0" y="548.92" font-size="10.1" transform="matrix(1.1985 0 0 1 325.03 0)" >0</text><text x="0" y="548.92" font-size="10.1" transform="matrix(1.1985 0 0 1 331.76 0)" >.</text><text x="0" y="548.92" font-size="10.1" transform="matrix(1.1985 0 0 1 335.12 0)" >4</text>
<text x="0" y="512.98" font-size="10.1" transform="matrix(1.2119 0 0 1 325.02 0)" >0</text><text x="0" y="512.98" font-size="10.1" transform="matrix(1.2119 0 0 1 331.83 0)" >.</text><text x="0" y="512.98" font-size="10.1" transform="matrix(1.2119 0 0 1 335.23 0)" >6</text>
<text x="0" y="477.04" font-size="10.1" transform="matrix(1.2115 0 0 1 325.02 0)" >0</text><text x="0" y="477.04" font-size="10.1" transform="matrix(1.2115 0 0 1 331.83 0)" >.</text><text x="0" y="477.04" font-size="10.1" transform="matrix(1.2115 0 0 1 335.23 0)" >8</text>
<path d="M328.33 443.8V436.85L326.45 438.52" stroke="#4a4a4a" stroke-width="1" fill="none"/><text x="0" y="443.8" font-size="10.1" transform="matrix(1.1416 0 0 1 332.33 0)" >.</text><text x="0" y="443.8" font-size="10.1" transform="matrix(1.1416 0 0 1 335.54 0)" >0</text>
<path d="M149.4 1.3V181.2" stroke="#f9c9ef" stroke-width="2.8"/>
<path d="M495.5 1.3V181.2" stroke="#f9c9ef" stroke-width="2.8"/>
<path d="M71.9 218.8V398.6" stroke="#f9c9ef" stroke-width="2.8"/>
<path d="M418.9 218.8V398.6" stroke="#f9c9ef" stroke-width="2.8"/>
<path d="M135.5 436.6V616.3" stroke="#f9c9ef" stroke-width="2.8"/>
<path d="M564.8 436.6V616.3" stroke="#f9c9ef" stroke-width="2.8"/>
<path d="M37.8 177.5H44.53V178.8H51.76V178.8H58.99V176.3H66.22V173.3H73.45V167.5H80.68V158.8H87.91V149.3H95.14V141.7H102.37V122.2H109.6V101.7H116.83V73.3H124.06V55H131.29V36.5H138.52V19.5H145.75V10.3H152.98V2.8H160.21V5.2H167.44V21H174.67V32.2H181.9V53H189.13V60.8H196.36V82H203.59V96.3H210.82V117.5H218.05V130.3H225.28V135.8H232.51V141.7H239.74V147.5H246.97V156.3H254.2V157.5H261.43V163H268.66V167H275.89V171.3H283.12V174.2H286.6" stroke="#f9c9ef" stroke-width="2.6" fill="none"/>
<path d="M345.9 179.3H349.9V179.8H359.27V175.4H368.64V169.6H378.01V164.6H387.38V156.4H396.75V147.5H406.12V137.1H415.49V125H424.86V113H434.23V91.7H443.6V77.2H452.97V62.4H462.34V51.6H471.71V31.1H481.08V12.1H490.45V9.6H499.82V9.3H509.19V22.5H518.56V31.2H527.93V45.4H537.3V50.3H546.67V69.1H556.04V92.2H565.41V115.1H574.78V124.4H584.15V134.2H593.52V147.7H598.5" stroke="#f9c9ef" stroke-width="2.6" fill="none"/>
<path d="M37.8 395.5H39.15V382H42.3V372H45.45V357.6H48.6V340.3H51.75V316.4H54.9V283H58.05V255H61.2V234H64.35V228.3H67.5V224.3H70.65V229H73.8V236.1H76.95V244.3H80.1V252.6H83.25V265.9H86.4V280.6H89.55V293.9H92.7V303.7H95.85V322.8H99V340.3H102.15V355.3H105.3V367H108.45V374H111.6V380H114.75V381.6H117.9V383.5H121.05V388.5H124.2V390.5H127.35V393H130.5V394.5H133.65V395.5H136.8V396.5H139.95V397.2H143.1V397.5H146.25V397.7H149.4V397.8H171" stroke="#f9c9ef" stroke-width="2.6" fill="none"/>
<path d="M345.9 397.5H347.08V396.7H350.26V395.2H353.44V393.3H356.62V391.4H359.8V389H362.98V387.9H366.16V384.8H369.34V381.6H372.52V377.4H375.7V370.8H378.88V363H382.06V349.5H385.24V333.4H388.42V317.1H391.6V300.3H394.78V284.5H397.96V264.6H401.14V247.3H404.32V231.6H407.5V232.4H410.68V238.3H413.86V238.3H417.04V246.3H420.22V247.3H423.4V272.7H426.58V291.3H429.76V314.3H432.94V330.5H436.12V345.5H439.3V362.5H442.48V373.2H445.66V376.5H448.84V379.6H452.02V382.7H455.2V388.3H458.38V391.1H461.56V391.1H464.74V391.1H467.92V392.3H471.1V395.3H474.28V395.3H477.46V395.5H480.64V396.2H483.82V397.4H487V397.8H491" stroke="#f9c9ef" stroke-width="2.6" fill="none"/>
<path d="M37.8 615.6H43.5V615.5H48V615.4H52.5V615.3H57V615H61.5V614.3H66V612.5H70.5V610.5H75V606.5H79.5V603.7H84V595.2H88.5V587.1H93V571.5H97.5V557.4H102V546.6H106.5V534.8H111V517H115.5V490.9H120V463.5H124.5V452.5H129V443.8H133.5V448.1H138V446.5H142.5V449.2H147V462.2H151.5V472.3H156V490.9H160.5V509.5H165V530.8H169.5V552.8H174V564.2H178.5V574.9H183V584H187.5V591.7H192V600H196.5V603.7H201V606.4H205.5V609.5H210V611.6H214.5V613.2H219V614H223.5V613.9H228V613.8H232.5V613.5H237V613H241.5V612.4H246V612.3H250.5V612.8H255V613.2H259.5V613.5H264V614H272" stroke="#f9c9ef" stroke-width="2.6" fill="none"/>
<path d="M503.5 615.9H508.62V615H512.05V612.9H515.48V610.2H518.91V607.5H522.34V604.6H525.77V602.5H529.2V595.7H532.63V586.7H536.06V569.3H539.49V551.3H542.92V534.8H546.35V523.2H549.78V508.3H553.21V494.9H556.64V479.5H560.07V462.5H563.5V450.5H566.93V447.3H570.36V451.2H573.79V454.8H577.22V458.2H580.65V471H584.08V483.5H587.51V506.5H590.94V520.7H594.37V542.6H597.8V562.4H599" stroke="#f9c9ef" stroke-width="2.6" fill="none"/>
<path d="M503.5 615.9H508.62V615H512.05V612.9H515.48V610.2H518.91V607.5H522.34V604.6H525.77V602.5H529.2V595.7H532.63V586.7H536.06V569.3H539.49V551.3H542.92V534.8H546.35V523.2H549.78V508.3H553.21V494.9H556.64V479.5H560.07V462.5H563.5V450.5H566.93V447.3H570.36V451.2H573.79V454.8H577.22V458.2H580.65V471H584.08V483.5H587.51V506.5H590.94V520.7H594.37V542.6H597.8V562.4H599" stroke="#9e2a8e" stroke-width="1.1" fill="none"/>
<path d="M37.8 615.6H43.5V615.5H48V615.4H52.5V615.3H57V615H61.5V614.3H66V612.5H70.5V610.5H75V606.5H79.5V603.7H84V595.2H88.5V587.1H93V571.5H97.5V557.4H102V546.6H106.5V534.8H111V517H115.5V490.9H120V463.5H124.5V452.5H129V443.8H133.5V448.1H138V446.5H142.5V449.2H147V462.2H151.5V472.3H156V490.9H160.5V509.5H165V530.8H169.5V552.8H174V564.2H178.5V574.9H183V584H187.5V591.7H192V600H196.5V603.7H201V606.4H205.5V609.5H210V611.6H214.5V613.2H219V614H223.5V613.9H228V613.8H232.5V613.5H237V613H241.5V612.4H246V612.3H250.5V612.8H255V613.2H259.5V613.5H264V614H272" stroke="#9e2a8e" stroke-width="1.1" fill="none"/>
<path d="M345.9 397.5H347.08V396.7H350.26V395.2H353.44V393.3H356.62V391.4H359.8V389H362.98V387.9H366.16V384.8H369.34V381.6H372.52V377.4H375.7V370.8H378.88V363H382.06V349.5H385.24V333.4H388.42V317.1H391.6V300.3H394.78V284.5H397.96V264.6H401.14V247.3H404.32V231.6H407.5V232.4H410.68V238.3H413.86V238.3H417.04V246.3H420.22V247.3H423.4V272.7H426.58V291.3H429.76V314.3H432.94V330.5H436.12V345.5H439.3V362.5H442.48V373.2H445.66V376.5H448.84V379.6H452.02V382.7H455.2V388.3H458.38V391.1H461.56V391.1H464.74V391.1H467.92V392.3H471.1V395.3H474.28V395.3H477.46V395.5H480.64V396.2H483.82V397.4H487V397.8H491" stroke="#9e2a8e" stroke-width="1.1" fill="none"/>
<path d="M37.8 395.5H39.15V382H42.3V372H45.45V357.6H48.6V340.3H51.75V316.4H54.9V283H58.05V255H61.2V234H64.35V228.3H67.5V224.3H70.65V229H73.8V236.1H76.95V244.3H80.1V252.6H83.25V265.9H86.4V280.6H89.55V293.9H92.7V303.7H95.85V322.8H99V340.3H102.15V355.3H105.3V367H108.45V374H111.6V380H114.75V381.6H117.9V383.5H121.05V388.5H124.2V390.5H127.35V393H130.5V394.5H133.65V395.5H136.8V396.5H139.95V397.2H143.1V397.5H146.25V397.7H149.4V397.8H171" stroke="#9e2a8e" stroke-width="1.1" fill="none"/>
<path d="M345.9 179.3H349.9V179.8H359.27V175.4H368.64V169.6H378.01V164.6H387.38V156.4H396.75V147.5H406.12V137.1H415.49V125H424.86V113H434.23V91.7H443.6V77.2H452.97V62.4H462.34V51.6H471.71V31.1H481.08V12.1H490.45V9.6H499.82V9.3H509.19V22.5H518.56V31.2H527.93V45.4H537.3V50.3H546.67V69.1H556.04V92.2H565.41V115.1H574.78V124.4H584.15V134.2H593.52V147.7H598.5" stroke="#9e2a8e" stroke-width="1.1" fill="none"/>
<path d="M37.8 177.5H44.53V178.8H51.76V178.8H58.99V176.3H66.22V173.3H73.45V167.5H80.68V158.8H87.91V149.3H95.14V141.7H102.37V122.2H109.6V101.7H116.83V73.3H124.06V55H131.29V36.5H138.52V19.5H145.75V10.3H152.98V2.8H160.21V5.2H167.44V21H174.67V32.2H181.9V53H189.13V60.8H196.36V82H203.59V96.3H210.82V117.5H218.05V130.3H225.28V135.8H232.51V141.7H239.74V147.5H246.97V156.3H254.2V157.5H261.43V163H268.66V167H275.89V171.3H283.12V174.2H286.6" stroke="#9e2a8e" stroke-width="1.1" fill="none"/>
<path d="M123.7 1.3V181.2" stroke="#d890c8" stroke-width="1" stroke-dasharray="1.1 1.23"/>
<path d="M204.4 1.3V181.2" stroke="#d890c8" stroke-width="1" stroke-dasharray="1.1 1.23"/>
<path d="M149.4 1.3V181.2" stroke="#ae2a96" stroke-width="1.3"/>
<path d="M161.3 1.3V181.2" stroke="#a83c90" stroke-width="1.3" stroke-dasharray="3.5 3.3"/>
<path d="M446.3 1.3V181.2" stroke="#d890c8" stroke-width="1" stroke-dasharray="1.1 1.23"/>
<path d="M548.8 1.3V181.2" stroke="#d890c8" stroke-width="1" stroke-dasharray="1.1 1.23"/>
<path d="M495.5 1.3V181.2" stroke="#ae2a96" stroke-width="1.3"/>
<path d="M498.9 1.3V181.2" stroke="#a83c90" stroke-width="1.3" stroke-dasharray="3.5 3.3"/>
<path d="M58.9 218.8V398.6" stroke="#d890c8" stroke-width="1" stroke-dasharray="1.1 1.23"/>
<path d="M93.6 218.8V398.6" stroke="#d890c8" stroke-width="1" stroke-dasharray="1.1 1.23"/>
<path d="M71.9 218.8V398.6" stroke="#ae2a96" stroke-width="1.3"/>
<path d="M74.3 218.8V398.6" stroke="#a83c90" stroke-width="1.3" stroke-dasharray="3.5 3.3"/>
<path d="M393.1 218.8V398.6" stroke="#d890c8" stroke-width="1" stroke-dasharray="1.1 1.23"/>
<path d="M429.5 218.8V398.6" stroke="#d890c8" stroke-width="1" stroke-dasharray="1.1 1.23"/>
<path d="M418.9 218.8V398.6" stroke="#ae2a96" stroke-width="1.3"/>
<path d="M411.3 218.8V398.6" stroke="#a83c90" stroke-width="1.3" stroke-dasharray="3.5 3.3"/>
<path d="M113.9 436.6V616.3" stroke="#d890c8" stroke-width="1" stroke-dasharray="1.1 1.23"/>
<path d="M163.5 436.6V616.3" stroke="#d890c8" stroke-width="1" stroke-dasharray="1.1 1.23"/>
<path d="M135.5 436.6V616.3" stroke="#ae2a96" stroke-width="1.3"/>
<path d="M137.9 436.6V616.3" stroke="#a83c90" stroke-width="1.3" stroke-dasharray="3.5 3.3"/>
<path d="M549.4 436.6V616.3" stroke="#d890c8" stroke-width="1" stroke-dasharray="1.1 1.23"/>
<path d="M585.5 436.6V616.3" stroke="#d890c8" stroke-width="1" stroke-dasharray="1.1 1.23"/>
<path d="M564.8 436.6V616.3" stroke="#ae2a96" stroke-width="1.3"/>
<path d="M568.5 436.6V616.3" stroke="#a83c90" stroke-width="1.3" stroke-dasharray="3.5 3.3"/>
<path d="M593.5 147.7H598.5" stroke="#9e2a8e" stroke-width="1.1"/>
<path d="M184.6 180.9H186.7V180.7H191.13V179.7H195.56V178.3H199.99V173.8H204.42V168.3H208.85V162.5H213.28V154.7H217.71V146.7H222.14V130.3H226.57V119.2H231V99.5H235.43V86.2H239.86V79.6H244.29V70.5H248.72V58.7H253.15V43.7H257.58V38.5H262.01V37.6H266.44V35.5H270.87V23.1H275.3V20H279.73V21.1H284.16V35.5H288.59V43.2H290.9" stroke="#141414" stroke-width="1.2" fill="none"/>
<path d="M345.9 177.6H354.6V173.6H367.02V169.2H379.44V164.3H391.86V153.5H404.28V140.5H416.7V127.5H429.12V120.4H441.54V111.5H453.96V100.4H466.38V86.2H478.8V78.1H491.22V72.2H503.64V62.7H516.06V48.5H528.48V35.6H540.9V34.7H553.32V32.4H565.74V21.7H578.16V9H590.58V3.2H595.3" stroke="#141414" stroke-width="1.2" fill="none"/>
<path d="M137.5 397.5H141.7V394.4H146.92V388.8H152.15V383.7H157.38V374.6H162.6V358.7H167.82V331.4H173.05V300.6H178.27V269.2H183.5V247.5H188.72V230.1H193.95V225.5H199.17V226.5H204.4V228.3H209.62V242.2H214.85V256.2H220.07V282.3H225.3V295.5H230.52V308.2H235.75V320.4H240.97V334.1H246.2V345.7H251.42V353.2H256.65V357.9H261.88V362.3H267.1V365.4H272.32V366.8H277.55V371.6H282.77V378.2H288V388.6H290.9" stroke="#141414" stroke-width="1.2" fill="none"/>
<path d="M502 397.9H505.22V397.5H507.36V397H509.5V394H511.64V390.8H513.78V385.1H515.92V379.5H518.06V372.2H520.2V359.3H522.34V339.6H524.48V316.3H526.62V304.4H528.76V283H530.9V259.1H533.04V239.4H535.18V232.4H537.32V230.3H539.46V222.7H541.6V222.3H543.74V224H545.88V233.5H548.02V251.4H550.16V277.4H552.3V299.5H554.44V320.4H556.58V328.5H558.72V341.3H560.86V345.6H563V359.7H565.14V368.6H567.28V380.3H569.42V386.6H571.56V390.9H573.7V393.4H575.84V395.6H577.98V396.8H580.12V397.7H582.26V397.9H597" stroke="#141414" stroke-width="1.2" fill="none"/>
<path d="M37.8 610.2H43V608.2H50.19V606H57.38V603.3H64.57V600.5H71.76V596.8H78.95V590H86.14V579.4H93.33V568.2H100.52V561.5H107.71V549.4H114.9V526.6H122.09V511.7H129.28V488H136.47V485.3H143.66V468.3H150.85V465.6H158.04V449.2H165.23V448.1H172.42V450.9H179.61V463.1H186.8V475.1H193.99V497.4H201.18V521.3H208.37V545.1H215.56V564.8H222.75V576H229.94V583.8H237.13V589H244.32V596.5H251.51V603.4H258.7V604.8H265.89V607H273.08V608.9H280.27V611.5H287.46V613.6H290.9" stroke="#141414" stroke-width="1.2" fill="none"/>
<path d="M345.8 614H346.6V611.5H347.4V607H348.2V601H349V592H349.8V581H350.6V560H351.4V530H352.2V502H353V478H353.6V455H354.3V445H356.6V459H357.7V512H358.7V554H359.3V569.5H360.2V581.6H361.1V591.5H362V598.7H362.9V605H364.3V611.4H366V614.5H368.3V615.9H372" stroke="#141414" stroke-width="1.2" fill="none"/>
<path d="M233.6 1.3V181.2" stroke="#505050" stroke-width="1" stroke-dasharray="1.1 1.23"/>
<path d="M280.1 1.3V181.2" stroke="#505050" stroke-width="1" stroke-dasharray="1.1 1.23"/>
<path d="M260.5 1.3V181.2" stroke="#141414" stroke-width="1.3" stroke-dasharray="3.5 3.3"/>
<path d="M268.9 1.3V181.2" stroke="#141414" stroke-width="1.25"/>
<path d="M455 1.3V181.2" stroke="#505050" stroke-width="1" stroke-dasharray="1.1 1.23"/>
<path d="M573.4 1.3V181.2" stroke="#505050" stroke-width="1" stroke-dasharray="1.1 1.23"/>
<path d="M521.8 1.3V181.2" stroke="#141414" stroke-width="1.3" stroke-dasharray="3.5 3.3"/>
<path d="M595.4 1.3V181.2" stroke="#141414" stroke-width="1.25"/>
<path d="M181.5 218.8V398.6" stroke="#505050" stroke-width="1" stroke-dasharray="1.1 1.23"/>
<path d="M242.4 218.8V398.6" stroke="#505050" stroke-width="1" stroke-dasharray="1.1 1.23"/>
<path d="M207 218.8V398.6" stroke="#141414" stroke-width="1.3" stroke-dasharray="3.5 3.3"/>
<path d="M203.9 218.8V398.6" stroke="#141414" stroke-width="1.25"/>
<path d="M527.4 218.8V398.6" stroke="#505050" stroke-width="1" stroke-dasharray="1.1 1.23"/>
<path d="M552.3 218.8V398.6" stroke="#505050" stroke-width="1" stroke-dasharray="1.1 1.23"/>
<path d="M535.1 218.8V398.6" stroke="#141414" stroke-width="1.25"/>
<path d="M539.4 218.8V398.6" stroke="#141414" stroke-width="1.3" stroke-dasharray="3.5 3.3"/>
<path d="M123.8 436.6V616.3" stroke="#505050" stroke-width="1" stroke-dasharray="1.1 1.23"/>
<path d="M203.5 436.6V616.3" stroke="#505050" stroke-width="1" stroke-dasharray="1.1 1.23"/>
<path d="M164.7 436.6V616.3" stroke="#141414" stroke-width="1.3" stroke-dasharray="3.5 3.3"/>
<path d="M168.7 436.6V616.3" stroke="#141414" stroke-width="1.25"/>
<path d="M352.5 436.6V616.3" stroke="#505050" stroke-width="1" stroke-dasharray="1.1 1.23"/>
<path d="M358.3 436.6V616.3" stroke="#505050" stroke-width="1" stroke-dasharray="1.1 1.23"/>
<path d="M355.4 436.6V616.3" stroke="#141414" stroke-width="1.25"/>
<text x="0" y="37.9" font-size="10.5" transform="matrix(0.8656 0 0 1 52.25 0)" >K</text><text x="0" y="37.9" font-size="10.5" transform="matrix(0.8656 0 0 1 58.32 0)" >L</text><text x="0" y="37.9" font-size="10.5" transform="matrix(0.8656 0 0 1 63.37 0)" >D</text>
<text x="0" y="37.48" font-size="8.0" transform="matrix(1.4665 0 0 1 75.13 0)" >=</text>
<text x="0" y="37.9" font-size="10.5" transform="matrix(1.0624 0 0 1 87.05 0)" >5</text><text x="0" y="37.9" font-size="10.5" transform="matrix(1.0624 0 0 1 93.26 0)" >.</text><text x="0" y="37.9" font-size="10.5" transform="matrix(1.0624 0 0 1 96.36 0)" >2</text>
<text x="0" y="37.9" font-size="10.5" transform="matrix(0.8656 0 0 1 365.75 0)" >K</text><text x="0" y="37.9" font-size="10.5" transform="matrix(0.8656 0 0 1 371.82 0)" >L</text><text x="0" y="37.9" font-size="10.5" transform="matrix(0.8656 0 0 1 376.87 0)" >D</text>
<text x="0" y="37.48" font-size="8.0" transform="matrix(1.4665 0 0 1 388.63 0)" >=</text>
<text x="0" y="37.9" font-size="10.5" transform="matrix(1.0250 0 0 1 400.58 0)" >0</text><text x="0" y="37.9" font-size="10.5" transform="matrix(1.0250 0 0 1 406.57 0)" >.</text><text x="0" y="37.9" font-size="10.5" transform="matrix(1.0250 0 0 1 409.56 0)" >2</text>
<text x="0" y="255.2" font-size="10.5" transform="matrix(0.8656 0 0 1 105.75 0)" >K</text><text x="0" y="255.2" font-size="10.5" transform="matrix(0.8656 0 0 1 111.82 0)" >L</text><text x="0" y="255.2" font-size="10.5" transform="matrix(0.8656 0 0 1 116.87 0)" >D</text>
<text x="0" y="254.78" font-size="8.0" transform="matrix(1.4665 0 0 1 128.63 0)" >=</text>
<text x="0" y="255.2" font-size="10.5" transform="matrix(1.0271 0 0 1 140.96 0)" >2</text><text x="0" y="255.2" font-size="10.5" transform="matrix(1.0271 0 0 1 146.96 0)" >5</text>
<text x="0" y="255.2" font-size="10.5" transform="matrix(0.8656 0 0 1 447.25 0)" >K</text><text x="0" y="255.2" font-size="10.5" transform="matrix(0.8656 0 0 1 453.32 0)" >L</text><text x="0" y="255.2" font-size="10.5" transform="matrix(0.8656 0 0 1 458.37 0)" >D</text>
<text x="0" y="254.78" font-size="8.0" transform="matrix(1.4665 0 0 1 470.13 0)" >=</text>
<path d="M486.09 255.2V247.98L484.14 249.71" stroke="#4a4a4a" stroke-width="1" fill="none"/><text x="0" y="255.2" font-size="10.5" transform="matrix(0.9421 0 0 1 489.25 0)" >.</text><text x="0" y="255.2" font-size="10.5" transform="matrix(0.9421 0 0 1 492 0)" >2</text>
<text x="0" y="472.8" font-size="10.5" transform="matrix(0.8656 0 0 1 225.05 0)" >K</text><text x="0" y="472.8" font-size="10.5" transform="matrix(0.8656 0 0 1 231.12 0)" >L</text><text x="0" y="472.8" font-size="10.5" transform="matrix(0.8656 0 0 1 236.17 0)" >D</text>
<text x="0" y="472.38" font-size="8.0" transform="matrix(1.4665 0 0 1 247.93 0)" >=</text>
<text x="0" y="472.8" font-size="10.5" transform="matrix(1.0986 0 0 1 259.25 0)" >0</text><text x="0" y="472.8" font-size="10.5" transform="matrix(1.0986 0 0 1 265.66 0)" >.</text><text x="0" y="472.8" font-size="10.5" transform="matrix(1.0986 0 0 1 268.87 0)" >5</text>
<text x="0" y="472.8" font-size="10.5" transform="matrix(0.8656 0 0 1 436.95 0)" >K</text><text x="0" y="472.8" font-size="10.5" transform="matrix(0.8656 0 0 1 443.02 0)" >L</text><text x="0" y="472.8" font-size="10.5" transform="matrix(0.8656 0 0 1 448.07 0)" >D</text>
<text x="0" y="472.38" font-size="8.0" transform="matrix(1.4665 0 0 1 459.83 0)" >=</text>
<text x="0" y="472.8" font-size="10.5" transform="matrix(0.8742 0 0 1 472.04 0)" >2</text><path d="M481.25 472.8V465.58L479.3 467.31" stroke="#4a4a4a" stroke-width="1" fill="none"/>
<text x="0" y="170.6" font-size="10.3" transform="matrix(0.9387 0 0 1 99.06 0)" >S</text><text x="0" y="170.6" font-size="10.3" transform="matrix(0.9387 0 0 1 105.51 0)" >y</text><path d="M114.7 170.6V163.51L112.79 165.21" stroke="#4a4a4a" stroke-width="1" fill="none"/>
<text x="222.78" y="170.8" font-size="10.3" >S</text><text x="229.65" y="170.8" font-size="10.3" >y</text><text x="234.79" y="170.8" font-size="10.3" >2</text>
<text x="0" y="169.2" font-size="10.3" transform="matrix(0.9536 0 0 1 416.55 0)" >S</text><text x="0" y="169.2" font-size="10.3" transform="matrix(0.9536 0 0 1 423.11 0)" >y</text><path d="M432.45 169.2V162.11L430.54 163.81" stroke="#4a4a4a" stroke-width="1" fill="none"/>
<text x="0" y="168.9" font-size="10.3" transform="matrix(0.9843 0 0 1 552.04 0)" >S</text><text x="0" y="168.9" font-size="10.3" transform="matrix(0.9843 0 0 1 558.8 0)" >y</text><text x="0" y="168.9" font-size="10.3" transform="matrix(0.9843 0 0 1 563.87 0)" >2</text>
<text x="0" y="388.2" font-size="10.3" transform="matrix(0.8940 0 0 1 87.08 0)" >S</text><text x="0" y="388.2" font-size="10.3" transform="matrix(0.8940 0 0 1 93.22 0)" >y</text><path d="M101.95 388.2V381.11L100.04 382.81" stroke="#4a4a4a" stroke-width="1" fill="none"/>
<text x="0" y="388.6" font-size="10.3" transform="matrix(0.9694 0 0 1 222.3 0)" >S</text><text x="0" y="388.6" font-size="10.3" transform="matrix(0.9694 0 0 1 228.96 0)" >y</text><text x="0" y="388.6" font-size="10.3" transform="matrix(0.9694 0 0 1 233.95 0)" >2</text>
<text x="0" y="388.4" font-size="10.3" transform="matrix(0.9238 0 0 1 384.27 0)" >S</text><text x="0" y="388.4" font-size="10.3" transform="matrix(0.9238 0 0 1 390.61 0)" >y</text><path d="M399.65 388.4V381.31L397.74 383.01" stroke="#4a4a4a" stroke-width="1" fill="none"/>
<text x="0" y="388.6" font-size="10.3" transform="matrix(0.9963 0 0 1 541.83 0)" >S</text><text x="0" y="388.6" font-size="10.3" transform="matrix(0.9963 0 0 1 548.68 0)" >y</text><text x="0" y="388.6" font-size="10.3" transform="matrix(0.9963 0 0 1 553.81 0)" >2</text>
<text x="0" y="606.1" font-size="10.3" transform="matrix(0.8940 0 0 1 91.28 0)" >S</text><text x="0" y="606.1" font-size="10.3" transform="matrix(0.8940 0 0 1 97.42 0)" >y</text><path d="M106.15 606.1V599.01L104.24 600.71" stroke="#4a4a4a" stroke-width="1" fill="none"/>
<text x="0" y="606.1" font-size="10.3" transform="matrix(0.9366 0 0 1 213.56 0)" >S</text><text x="0" y="606.1" font-size="10.3" transform="matrix(0.9366 0 0 1 220 0)" >y</text><text x="0" y="606.1" font-size="10.3" transform="matrix(0.9366 0 0 1 224.82 0)" >2</text>
<text x="0" y="581" font-size="10.3" transform="matrix(0.9306 0 0 1 371.26 0)" >S</text><text x="0" y="581" font-size="10.3" transform="matrix(0.9306 0 0 1 377.66 0)" >y</text><text x="0" y="581" font-size="10.3" transform="matrix(0.9306 0 0 1 382.45 0)" >2</text>
<text x="0" y="581" font-size="10.3" transform="matrix(0.8702 0 0 1 509.29 0)" >S</text><text x="0" y="581" font-size="10.3" transform="matrix(0.8702 0 0 1 515.27 0)" >y</text><path d="M523.75 581V573.91L521.84 575.61" stroke="#4a4a4a" stroke-width="1" fill="none"/>
<text transform="translate(7.7 171) rotate(-90)" x="-0.9" y="0" font-size="11.0" textLength="59.91" lengthAdjust="spacingAndGlyphs">Normalized</text>
<text transform="translate(7.7 108.1) rotate(-90)" x="-0.73" y="0" font-size="11.0" textLength="45.97" lengthAdjust="spacingAndGlyphs">marginal</text>
<text transform="translate(7.7 57.5) rotate(-90)" x="-0.71" y="0" font-size="11.0" textLength="46.89" lengthAdjust="spacingAndGlyphs">posterior</text>
<text transform="translate(7.7 388.5) rotate(-90)" x="-0.9" y="0" font-size="11.0" textLength="59.91" lengthAdjust="spacingAndGlyphs">Normalized</text>
<text transform="translate(7.7 325.6) rotate(-90)" x="-0.73" y="0" font-size="11.0" textLength="45.97" lengthAdjust="spacingAndGlyphs">marginal</text>
<text transform="translate(7.7 275) rotate(-90)" x="-0.71" y="0" font-size="11.0" textLength="46.89" lengthAdjust="spacingAndGlyphs">posterior</text>
<text transform="translate(7.7 606.3) rotate(-90)" x="-0.9" y="0" font-size="11.0" textLength="59.91" lengthAdjust="spacingAndGlyphs">Normalized</text>
<text transform="translate(7.7 543.4) rotate(-90)" x="-0.73" y="0" font-size="11.0" textLength="45.97" lengthAdjust="spacingAndGlyphs">marginal</text>
<text transform="translate(7.7 492.8) rotate(-90)" x="-0.71" y="0" font-size="11.0" textLength="46.89" lengthAdjust="spacingAndGlyphs">posterior</text>
<text transform="translate(315.8 171) rotate(-90)" x="-0.9" y="0" font-size="11.0" textLength="59.91" lengthAdjust="spacingAndGlyphs">Normalized</text>
<text transform="translate(315.8 108.1) rotate(-90)" x="-0.73" y="0" font-size="11.0" textLength="45.97" lengthAdjust="spacingAndGlyphs">marginal</text>
<text transform="translate(315.8 57.5) rotate(-90)" x="-0.71" y="0" font-size="11.0" textLength="46.89" lengthAdjust="spacingAndGlyphs">posterior</text>
<text transform="translate(315.8 388.5) rotate(-90)" x="-0.9" y="0" font-size="11.0" textLength="59.91" lengthAdjust="spacingAndGlyphs">Normalized</text>
<text transform="translate(315.8 325.6) rotate(-90)" x="-0.73" y="0" font-size="11.0" textLength="45.97" lengthAdjust="spacingAndGlyphs">marginal</text>
<text transform="translate(315.8 275) rotate(-90)" x="-0.71" y="0" font-size="11.0" textLength="46.89" lengthAdjust="spacingAndGlyphs">posterior</text>
<text transform="translate(315.8 606.3) rotate(-90)" x="-0.9" y="0" font-size="11.0" textLength="59.91" lengthAdjust="spacingAndGlyphs">Normalized</text>
<text transform="translate(315.8 543.4) rotate(-90)" x="-0.73" y="0" font-size="11.0" textLength="45.97" lengthAdjust="spacingAndGlyphs">marginal</text>
<text transform="translate(315.8 492.8) rotate(-90)" x="-0.71" y="0" font-size="11.0" textLength="46.89" lengthAdjust="spacingAndGlyphs">posterior</text>
<text x="0" y="206.6" font-size="8.8" transform="matrix(1.0348 0 0 1 160.62 0)" font-style="italic">σ</text>
<text x="0" y="205.8" font-size="8.4" transform="matrix(1.1082 0 0 1 468.8 0)" >Y</text>
<text x="0" y="423.8" font-size="8.7" transform="matrix(1.0700 0 0 1 159.04 0)" >N</text>
<text x="0" y="425.7" font-size="5.3" transform="matrix(1.1841 0 0 1 165.75 0)" >0</text>
<text x="0" y="423.8" font-size="8.6" transform="matrix(1.2139 0 0 1 468.86 0)" >q</text>
<text x="0" y="641.6" font-size="9.4" transform="matrix(1.0894 0 0 1 162.91 0)" >i</text>
<text x="0" y="641.6" font-size="9.0" transform="matrix(1.4614 0 0 1 467.71 0)" >τ</text>
<text x="0" y="644.8" font-size="6.6" transform="matrix(0.9208 0 0 1 472.97 0)" >V</text>
</svg>
</body></html>
